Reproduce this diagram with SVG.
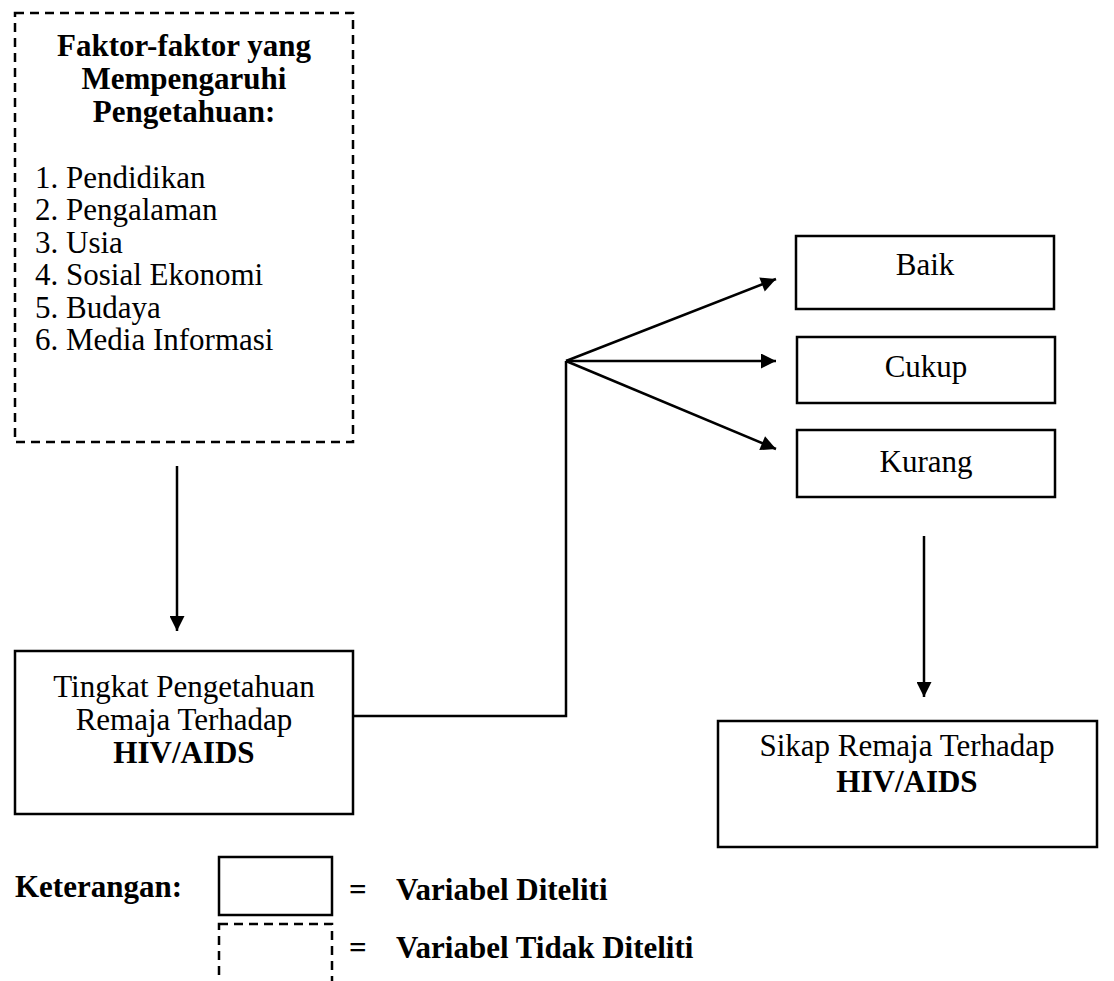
<svg xmlns="http://www.w3.org/2000/svg" width="1114" height="981" viewBox="0 0 1114 981">
<style>
.box{fill:#fff;stroke:#000;stroke-width:2.5}
.dash{fill:none;stroke:#000;stroke-width:2.5;stroke-dasharray:9,6}
.t{font-family:"Liberation Serif","Times New Roman",serif;font-size:31px;fill:#000}
.b{font-weight:bold}
.c{text-anchor:middle}
.ln{fill:none;stroke:#000;stroke-width:2.5}
</style>
<defs>
<marker id="ah" viewBox="0 0 10 10" refX="10" refY="5" markerWidth="16" markerHeight="15" markerUnits="userSpaceOnUse" orient="auto">
<path d="M0,0 L10,5 L0,10 Z" fill="#000"/>
</marker>
</defs>
<rect width="1114" height="981" fill="#fff"/>
<g id="faktor">
<rect class="dash" x="15" y="13" width="338" height="429"/>
<text class="t b c" x="184" y="56">Faktor-faktor yang</text>
<text class="t b c" x="184" y="89">Mempengaruhi</text>
<text class="t b c" x="184" y="122">Pengetahuan:</text>
<text class="t" x="35" y="188">1. Pendidikan</text>
<text class="t" x="35" y="220">2. Pengalaman</text>
<text class="t" x="35" y="253">3. Usia</text>
<text class="t" x="35" y="285">4. Sosial Ekonomi</text>
<text class="t" x="35" y="318">5. Budaya</text>
<text class="t" x="35" y="350">6. Media Informasi</text>
</g>
<g id="tingkat">
<rect class="box" x="15" y="651" width="338" height="163"/>
<text class="t c" x="184" y="697">Tingkat Pengetahuan</text>
<text class="t c" x="184" y="730">Remaja Terhadap</text>
<text class="t b c" x="184" y="763">HIV/AIDS</text>
</g>
<g id="baik">
<rect class="box" x="796" y="236" width="258" height="73"/>
<text class="t c" x="925" y="275">Baik</text>
</g>
<g id="cukup">
<rect class="box" x="797" y="337" width="258" height="66"/>
<text class="t c" x="926" y="377">Cukup</text>
</g>
<g id="kurang">
<rect class="box" x="797" y="430" width="258" height="67"/>
<text class="t c" x="926" y="472">Kurang</text>
</g>
<g id="sikap">
<rect class="box" x="718" y="721" width="379" height="126"/>
<text class="t c" x="907" y="756">Sikap Remaja Terhadap</text>
<text class="t b c" x="907" y="792">HIV/AIDS</text>
</g>
<g id="connectors">
<line class="ln" x1="177" y1="466" x2="177" y2="631" marker-end="url(#ah)"/>
<polyline class="ln" points="353,716 566,716 566,361"/>
<line class="ln" x1="566" y1="361" x2="776" y2="279" marker-end="url(#ah)"/>
<line class="ln" x1="566" y1="361" x2="776" y2="361" marker-end="url(#ah)"/>
<line class="ln" x1="566" y1="361" x2="776" y2="449" marker-end="url(#ah)"/>
<line class="ln" x1="924" y1="536" x2="924" y2="697" marker-end="url(#ah)"/>
</g>
<g id="legend">
<text class="t b" x="15" y="897">Keterangan:</text>
<rect class="box" x="219" y="857" width="113" height="58" stroke-width="2"/>
<rect class="dash" x="219" y="924" width="113" height="70" stroke-width="2"/>
<text class="t b" x="349" y="900">=</text>
<text class="t b" x="396" y="900">Variabel Diteliti</text>
<text class="t b" x="349" y="958">=</text>
<text class="t b" x="396" y="958">Variabel Tidak Diteliti</text>
</g>
</svg>
